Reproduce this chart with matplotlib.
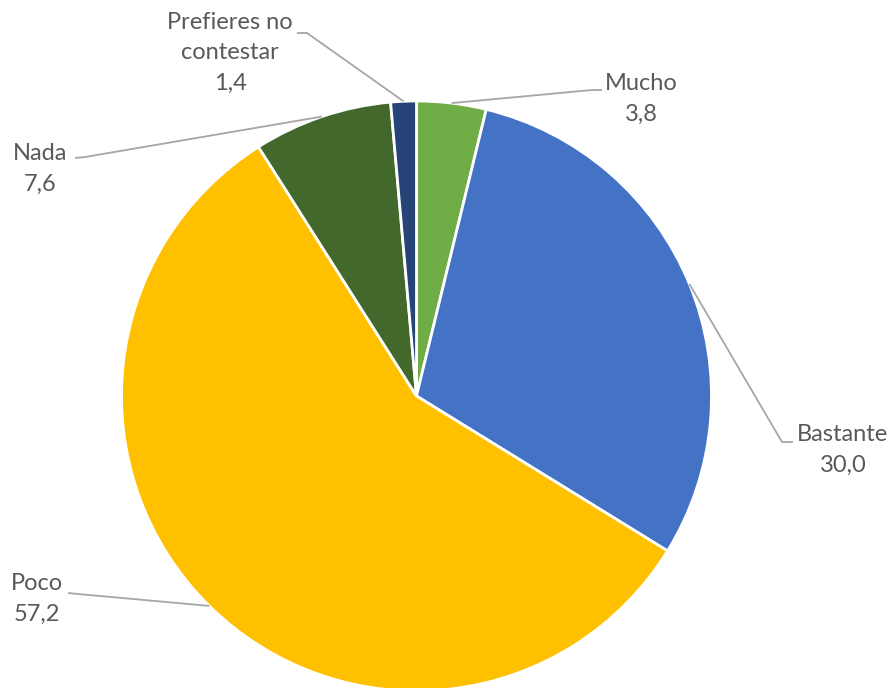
import matplotlib
matplotlib.use("Agg")
import matplotlib.pyplot as plt
import numpy as np

categories = ["Mucho", "Bastante", "Poco", "Nada", "Prefieres no\ncontestar"]
values = [3.8, 30.0, 57.2, 7.6, 1.4]
colors = ["#70AD47", "#4472C4", "#FFC000", "#43682B", "#264478"]

W, H = 895, 688
fig = plt.figure(figsize=(W / 100, H / 100), dpi=100)
ax = fig.add_axes([0, 0, 1, 1])

cx, cy, r = 416.5, H - 396, 295
wedges, _ = ax.pie(values, colors=colors, startangle=90, counterclock=False,
                   center=(cx, cy), radius=r, frame=True,
                   wedgeprops=dict(edgecolor="white", linewidth=2))
ax.set_xlim(0, W)
ax.set_ylim(0, H)
ax.set_aspect("equal")
ax.axis("off")

# label layout: (text center x, text top y in px, elbow px, end px)
layout = [
    (641, 73, (592, 90), (602, 90)),
    (843, 424, (782, 442), (793, 442)),
    (37, 573, (78, 594), (68, 593)),
    (40, 143, (85, 157), (75, 158)),
    (230, 12, (307, 33), (297, 33)),
]
gray = "#A6A6A6"
txtc = "#595959"
for w, cat, val, (tx, ty, elb, end) in zip(wedges, categories, values, layout):
    ang = np.deg2rad((w.theta1 + w.theta2) / 2)
    ax_, ay_ = cx + r * np.cos(ang), cy + r * np.sin(ang)
    xs = [ax_, elb[0], end[0]]
    ys = [ay_, H - elb[1], H - end[1]]
    ax.plot(xs, ys, color=gray, lw=1.3, solid_capstyle="butt", zorder=3)
    label = f"{cat}\n{val:.1f}".replace(".", ",")
    ax.text(tx, H - ty, label, ha="center", va="top", fontsize=17,
            family="Lato", color=txtc, linespacing=1.55)

fig.savefig("out.png", dpi=100)
